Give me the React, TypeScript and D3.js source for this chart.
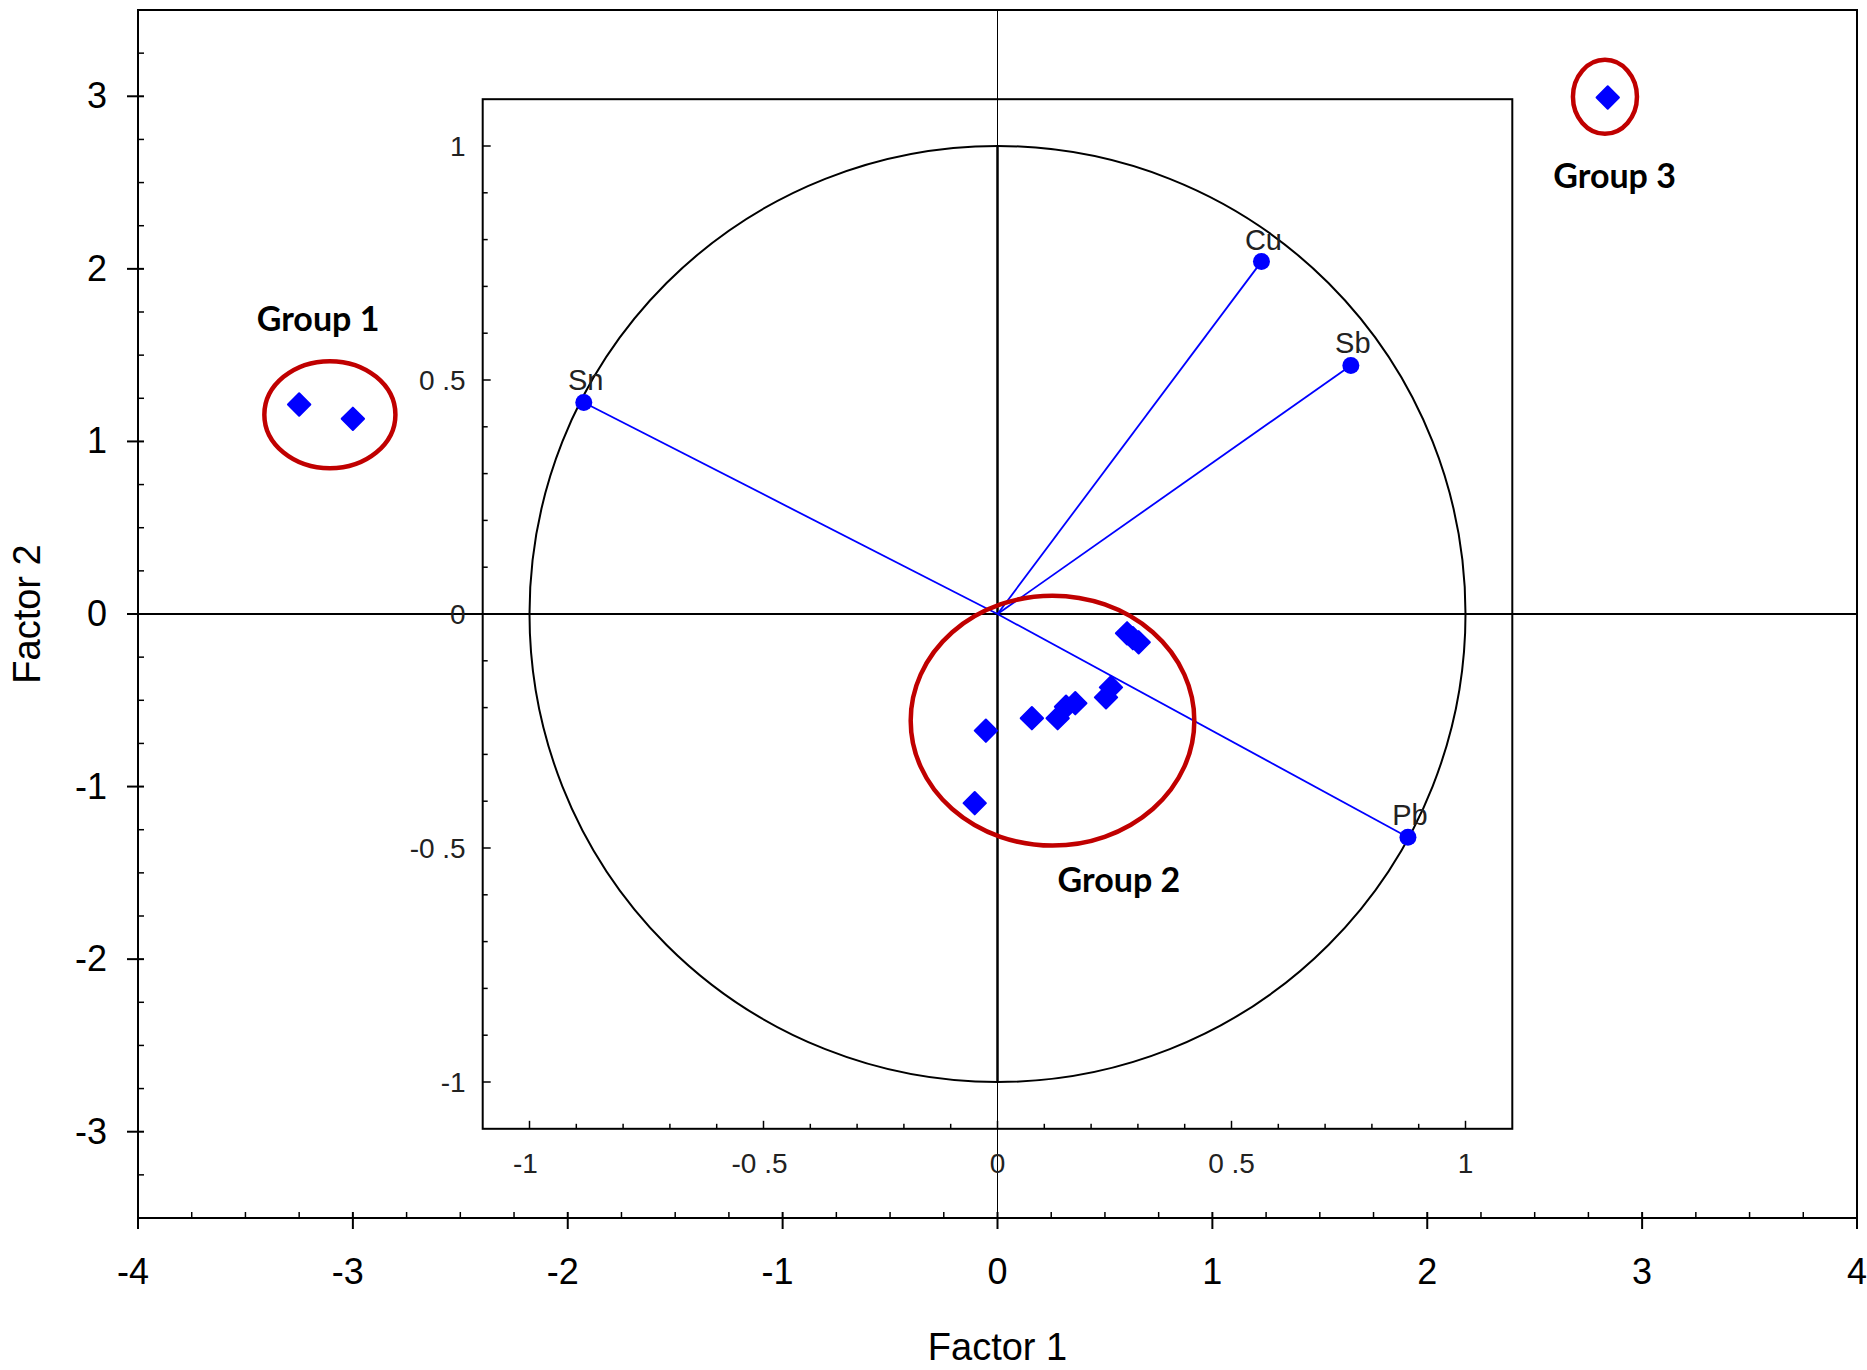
import React, { useEffect, useRef } from "react";
import * as d3 from "d3";

// factor loadings (inner correlation circle)
const loadingVars = ["Sn", "Cu", "Sb", "Pb"];
const loadingF1 = [-0.884, 0.564, 0.755, 0.877];
const loadingF2 = [0.452, 0.753, 0.531, -0.477];

// factor scores (outer plot)
const scoreF1 = [-3.25, -3.0, 2.84, 0.603, 0.63, 0.657, 0.528, 0.505, 0.362, 0.319, 0.28, 0.16, -0.054, -0.106];
const scoreF2 = [1.214, 1.131, 2.993, -0.112, -0.14, -0.164, -0.425, -0.483, -0.517, -0.537, -0.604, -0.604, -0.676, -1.096];

// group annotations (outer plot units)
const groupNames = ["Group 1", "Group 2", "Group 3"];
const groupCx = [-3.107, 0.256, 2.827];
const groupCy = [1.155, -0.618, 2.997];
const groupRx = [0.305, 0.66, 0.149];
const groupRy = [0.31, 0.724, 0.214];
const groupLabelX = [-3.162, 0.565, 2.872];
const groupLabelY = [1.708, -1.544, 2.536];

// tick values
const outerXTicks = [-4, -3, -2, -1, 0, 1, 2, 3, 4];
const outerYTicks = [-3, -2, -1, 0, 1, 2, 3];
const innerTicks = [-1, -0.5, 0, 0.5, 1];

const W = 1867;
const H = 1370;

export default function App() {
  const ref = useRef<SVGSVGElement>(null);

  useEffect(() => {
    const svg = d3.select(ref.current);
    svg.selectAll("*").remove();

    const left = 138, right = 1857, top = 10, bottom = 1218;
    const x = d3.scaleLinear().domain([-4, 4]).range([left, right]);
    const y = d3.scaleLinear().domain([-3.5, 3.5]).range([bottom, top]);

    // inner loading plot shares the origin
    const k = 468;
    const x0 = x(0), y0 = y(0);
    const ix = d3.scaleLinear().domain([-1.1, 1.1]).range([x0 - 1.1 * k, x0 + 1.1 * k]);
    const iy = d3.scaleLinear().domain([-1.1, 1.1]).range([y0 + 1.1 * k, y0 - 1.1 * k]);

    const font = "'Liberation Sans', Arial, sans-serif";

    // outer frame
    svg.append("rect")
      .attr("x", left).attr("y", top)
      .attr("width", right - left).attr("height", bottom - top)
      .attr("fill", "none").attr("stroke", "#000").attr("stroke-width", 2);

    // outer minor ticks
    const xMinor = d3.range(-4, 4.001, 0.25).filter((v) => Math.abs(v - Math.round(v)) > 1e-6);
    svg.append("g").selectAll("line").data(xMinor).join("line")
      .attr("x1", (d) => x(d)).attr("x2", (d) => x(d))
      .attr("y1", bottom).attr("y2", bottom - 6)
      .attr("stroke", "#000").attr("stroke-width", 1.5);
    const yMinor = d3.range(-3.25, 3.251, 0.25).filter((v) => Math.abs(v - Math.round(v)) > 1e-6);
    svg.append("g").selectAll("line").data(yMinor).join("line")
      .attr("y1", (d) => y(d)).attr("y2", (d) => y(d))
      .attr("x1", left).attr("x2", left + 6)
      .attr("stroke", "#000").attr("stroke-width", 1.5);

    // outer major ticks + labels
    const gx = svg.append("g");
    gx.selectAll("line").data(outerXTicks).join("line")
      .attr("x1", (d) => x(d)).attr("x2", (d) => x(d))
      .attr("y1", bottom - 6).attr("y2", bottom + 11)
      .attr("stroke", "#000").attr("stroke-width", 2);
    gx.selectAll("text").data(outerXTicks).join("text")
      .attr("x", (d) => x(d) - (d < 0 ? 5 : 0)).attr("y", 1284)
      .attr("text-anchor", "middle")
      .style("font-family", font).style("font-size", "36px")
      .text((d) => String(d));

    const gy = svg.append("g");
    gy.selectAll("line").data(outerYTicks).join("line")
      .attr("y1", (d) => y(d)).attr("y2", (d) => y(d))
      .attr("x1", left - 11).attr("x2", left + 6)
      .attr("stroke", "#000").attr("stroke-width", 2);
    gy.selectAll("text").data(outerYTicks).join("text")
      .attr("x", 107).attr("y", (d) => y(d) + 12)
      .attr("text-anchor", "end")
      .style("font-family", font).style("font-size", "36px")
      .text((d) => String(d));

    // axis titles
    svg.append("text")
      .attr("x", x0).attr("y", 1360)
      .attr("text-anchor", "middle")
      .style("font-family", font).style("font-size", "38px")
      .text("Factor 1");
    svg.append("text")
      .attr("transform", `translate(40, ${y0}) rotate(-90)`)
      .attr("text-anchor", "middle")
      .style("font-family", font).style("font-size", "38px")
      .text("Factor 2");

    // origin cross lines
    svg.append("line")
      .attr("x1", left).attr("x2", right).attr("y1", y0).attr("y2", y0)
      .attr("stroke", "#000").attr("stroke-width", 2);
    svg.append("line")
      .attr("x1", x0).attr("x2", x0).attr("y1", top).attr("y2", bottom)
      .attr("stroke", "#000").attr("stroke-width", 1);

    // inner frame
    const il = ix(-1.1), ir = ix(1.1), it = iy(1.1), ib = iy(-1.1);
    svg.append("rect")
      .attr("x", il).attr("y", it)
      .attr("width", ir - il).attr("height", ib - it)
      .attr("fill", "none").attr("stroke", "#000").attr("stroke-width", 2);

    const innerMinor = d3.range(-10, 11).map((v) => v / 10).filter((v) => Math.abs(v * 2 - Math.round(v * 2)) > 1e-6);
    const gi = svg.append("g");
    gi.selectAll(".bmin").data(innerMinor).join("line").attr("class", "bmin")
      .attr("x1", (d) => ix(d)).attr("x2", (d) => ix(d))
      .attr("y1", ib).attr("y2", ib - 5)
      .attr("stroke", "#000").attr("stroke-width", 1.5);
    gi.selectAll(".bmaj").data(innerTicks).join("line").attr("class", "bmaj")
      .attr("x1", (d) => ix(d)).attr("x2", (d) => ix(d))
      .attr("y1", ib).attr("y2", ib - 8)
      .attr("stroke", "#000").attr("stroke-width", 1.5);
    gi.selectAll(".lmin").data(innerMinor).join("line").attr("class", "lmin")
      .attr("y1", (d) => iy(d)).attr("y2", (d) => iy(d))
      .attr("x1", il).attr("x2", il + 5)
      .attr("stroke", "#000").attr("stroke-width", 1.5);
    gi.selectAll(".lmaj").data(innerTicks).join("line").attr("class", "lmaj")
      .attr("y1", (d) => iy(d)).attr("y2", (d) => iy(d))
      .attr("x1", il).attr("x2", il + 8)
      .attr("stroke", "#000").attr("stroke-width", 1.5);

    const fmt = (v: number) => String(v).replace("0.", "0 .");
    gi.selectAll(".blab").data(innerTicks).join("text").attr("class", "blab")
      .attr("x", (d) => ix(d) - (d < 0 ? 4 : 0)).attr("y", ib + 44)
      .attr("text-anchor", "middle").attr("fill", "#222")
      .style("font-family", font).style("font-size", "28px")
      .text((d) => fmt(d));
    gi.selectAll(".llab").data(innerTicks).join("text").attr("class", "llab")
      .attr("x", il - 17).attr("y", (d) => iy(d) + 10)
      .attr("text-anchor", "end").attr("fill", "#222")
      .style("font-family", font).style("font-size", "28px")
      .text((d) => fmt(d));

    // unit circle
    svg.append("ellipse")
      .attr("cx", ix(0)).attr("cy", iy(0))
      .attr("rx", ix(1) - ix(0)).attr("ry", iy(0) - iy(1))
      .attr("fill", "none").attr("stroke", "#000").attr("stroke-width", 2);
    svg.append("line")
      .attr("x1", ix(0)).attr("x2", ix(0)).attr("y1", iy(1)).attr("y2", iy(-1))
      .attr("stroke", "#000").attr("stroke-width", 2.5);

    // loading vectors
    const gl = svg.append("g");
    gl.selectAll("line").data(loadingVars).join("line")
      .attr("x1", ix(0)).attr("y1", iy(0))
      .attr("x2", (_, i) => ix(loadingF1[i])).attr("y2", (_, i) => iy(loadingF2[i]))
      .attr("stroke", "#0000ff").attr("stroke-width", 1.8);
    gl.selectAll("circle").data(loadingVars).join("circle")
      .attr("cx", (_, i) => ix(loadingF1[i])).attr("cy", (_, i) => iy(loadingF2[i]))
      .attr("r", 8.5).attr("fill", "#0000ff");
    gl.selectAll("text").data(loadingVars).join("text")
      .attr("x", (_, i) => ix(loadingF1[i]) + 2).attr("y", (_, i) => iy(loadingF2[i]) - 12)
      .attr("text-anchor", "middle").attr("fill", "#222")
      .style("font-family", font).style("font-size", "29px")
      .text((d) => d);

    // score diamonds
    const diamond = d3.symbol(d3.symbolSquare, 250)();
    svg.append("g").selectAll("path").data(scoreF1).join("path")
      .attr("d", diamond)
      .attr("transform", (d, i) => `translate(${x(d)},${y(scoreF2[i])}) rotate(45)`)
      .attr("fill", "#0000ff").attr("stroke", "#0000ff")
      .attr("stroke-width", 2).attr("stroke-linejoin", "round");

    // group ellipses + labels
    const gg = svg.append("g");
    gg.selectAll("ellipse").data(groupNames).join("ellipse")
      .attr("cx", (_, i) => x(groupCx[i])).attr("cy", (_, i) => y(groupCy[i]))
      .attr("rx", (_, i) => x(groupRx[i]) - x(0)).attr("ry", (_, i) => y(0) - y(groupRy[i]))
      .attr("fill", "none").attr("stroke", "#c00000").attr("stroke-width", 4.5);
    gg.selectAll("text").data(groupNames).join("text")
      .attr("x", (_, i) => x(groupLabelX[i])).attr("y", (_, i) => y(groupLabelY[i]) + 12)
      .attr("text-anchor", "middle")
      .style("font-family", "Lato, 'Open Sans', sans-serif")
      .style("font-weight", "700").style("font-size", "34px")
      .text((d) => d);
  }, []);

  return (
    <div style={{ position: "absolute", left: 0, top: 0 }}>
      <svg ref={ref} width={W} height={H} style={{ display: "block", background: "#fff" }} />
    </div>
  );
}
